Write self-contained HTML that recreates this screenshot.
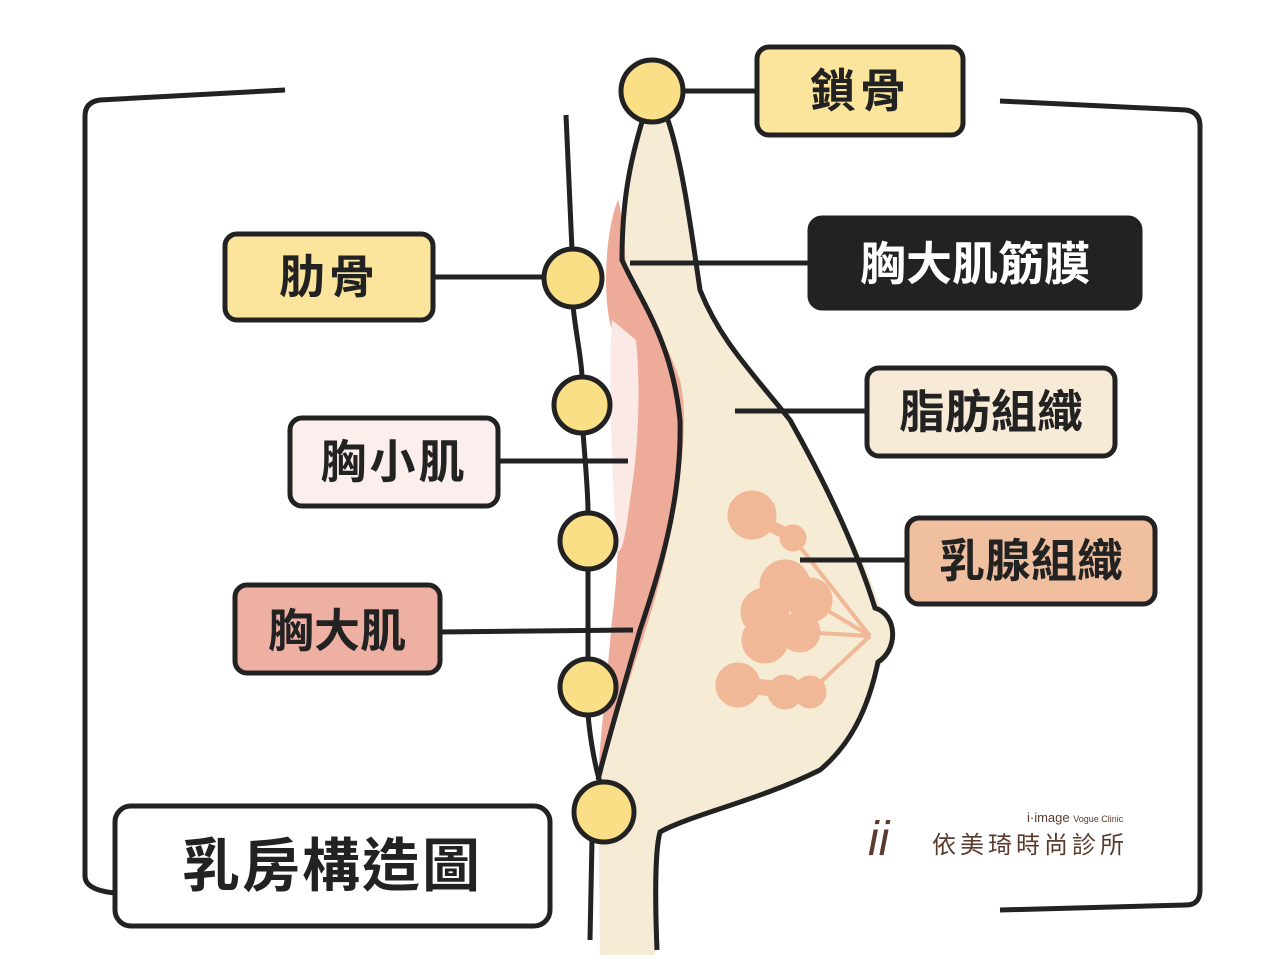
<!DOCTYPE html>
<html><head><meta charset="utf-8"><style>
body{margin:0;background:#fff;}
svg{display:block}
text{font-family:"Liberation Sans","Noto Sans CJK TC",sans-serif;font-weight:bold;}
</style></head><body>
<svg width="1280" height="960" viewBox="0 0 1280 960" xmlns="http://www.w3.org/2000/svg">
<path d="M285,90 L100,100 Q85,102 85,116 L85,876 Q85,890 115,893" fill="none" stroke="#222" stroke-width="5"/>
<path d="M1000,101 L1186,110 Q1200,112 1200,126 L1200,890 Q1200,905 1186,905 L1000,910" fill="none" stroke="#222" stroke-width="5"/>
<path d="M645,112 C630,160 622,200 622,260 C640,300 672,340 680,420 C682,500 660,570 640,630 C620,700 605,750 598,780 L600,955 L655,955 C655,900 655,850 660,832 C690,815 760,800 820,770 C850,745 865,710 872,675 C890,660 900,630 880,608 C870,570 835,500 790,420 C750,370 720,340 700,290 C690,220 680,150 665,112 Z" fill="#f6ecd6"/>
<path d="M618,200 C605,230 602,300 612,330 C615,420 625,520 612,620 C605,700 598,760 598,785 C620,700 645,640 660,580 C680,500 690,420 680,380 C662,330 640,300 626,262 C622,230 622,210 618,200 Z" fill="#eeab9a"/>
<path d="M612,320 C608,380 612,460 615,520 C614,560 622,570 630,500 C640,440 640,380 636,340 Z" fill="#fbe9e6"/>
<path d="M645,112 C630,160 622,200 622,260 C640,300 672,340 680,420 C682,500 660,570 640,630 C620,700 605,750 598,780" fill="none" stroke="#222" stroke-width="5"/>
<path d="M665,112 C680,150 690,220 700,290 C720,340 750,370 790,420 C835,500 860,560 875,608 C898,615 898,650 878,662 C868,710 850,745 820,770 C760,800 690,815 660,832 C655,850 655,900 657,950" fill="none" stroke="#222" stroke-width="5"/>
<g fill="#f0b896" stroke="#f0b896">
<circle cx="752" cy="515" r="24"/><circle cx="793" cy="538" r="13"/>
<path d="M752,517 L791,536" stroke-width="12"/>
<circle cx="785" cy="585" r="25"/><circle cx="765" cy="612" r="24"/><circle cx="765" cy="640" r="23"/>
<circle cx="810" cy="600" r="22"/><circle cx="800" cy="632" r="20"/>
<circle cx="738" cy="685" r="22"/><circle cx="785" cy="692" r="17"/><circle cx="810" cy="692" r="16"/>
<path d="M738,685 L810,692" stroke-width="16"/>
<path d="M793,538 L870,636 M810,600 L870,636 M800,632 L870,636 M810,692 L870,636 M785,585 L870,636" stroke-width="4"/>
</g>
<path d="M566,115 L572,250 M573,305 C575,330 582,360 582,378 M583,432 C585,460 588,490 588,512 M588,568 L588,660 M588,714 C590,740 596,770 600,782 M592,840 L590,940" fill="none" stroke="#222" stroke-width="5"/>
<g fill="#fbdf86" stroke="#222" stroke-width="5">
<circle cx="652" cy="91" r="31"/>
<circle cx="573" cy="278" r="29"/>
<circle cx="582" cy="405" r="28"/>
<circle cx="588" cy="541" r="28"/>
<circle cx="588" cy="687" r="28"/>
<circle cx="604" cy="812" r="30"/>
</g>
<g stroke="#222" stroke-width="5">
<line x1="683" y1="91" x2="758" y2="91"/>
<line x1="433" y1="277" x2="545" y2="277"/>
<line x1="630" y1="263" x2="810" y2="263"/>
<line x1="735" y1="411" x2="867" y2="411"/>
<line x1="498" y1="461" x2="628" y2="461"/>
<line x1="800" y1="560" x2="907" y2="560"/>
<line x1="440" y1="632" x2="633" y2="630"/>
</g>
<g stroke="#222" stroke-width="5">
<rect x="757" y="47" width="206" height="88" rx="12" fill="#fbe59c"/>
<rect x="225" y="234" width="208" height="86" rx="12" fill="#fbe59c"/>
<rect x="810" y="218" width="330" height="90" rx="12" fill="#222"/>
<rect x="867" y="368" width="248" height="88" rx="12" fill="#f7ead6"/>
<rect x="290" y="418" width="208" height="88" rx="12" fill="#fbeeec"/>
<rect x="907" y="518" width="248" height="86" rx="12" fill="#f0bf9f"/>
<rect x="235" y="585" width="205" height="88" rx="12" fill="#eeb0a2"/>
<rect x="115" y="806" width="435" height="120" rx="16" fill="#fff"/>
</g>
<g font-size="46" fill="#222" text-anchor="middle">
<text x="860" y="107" letter-spacing="4">鎖骨</text>
<text x="329" y="293" letter-spacing="4">肋骨</text>
<text x="975" y="280" fill="#fff">胸大肌筋膜</text>
<text x="991" y="428">脂肪組織</text>
<text x="394" y="478" letter-spacing="3">胸小肌</text>
<text x="1031" y="577">乳腺組織</text>
<text x="337" y="647">胸大肌</text>
<text x="332" y="886" font-size="58" letter-spacing="2">乳房構造圖</text>
</g>
<g fill="#5a3a2e">
<text x="868" y="855" font-family="Liberation Serif,serif" font-style="italic" font-size="48" style="font-weight:normal">ii</text>
<text x="932" y="853" font-size="24" letter-spacing="4" style="font-weight:normal">依美琦時尚診所</text>
<text x="1027" y="822" font-size="13" style="font-weight:normal">i·image <tspan font-size="9">Vogue Clinic</tspan></text>
</g>
</svg>
</body></html>
